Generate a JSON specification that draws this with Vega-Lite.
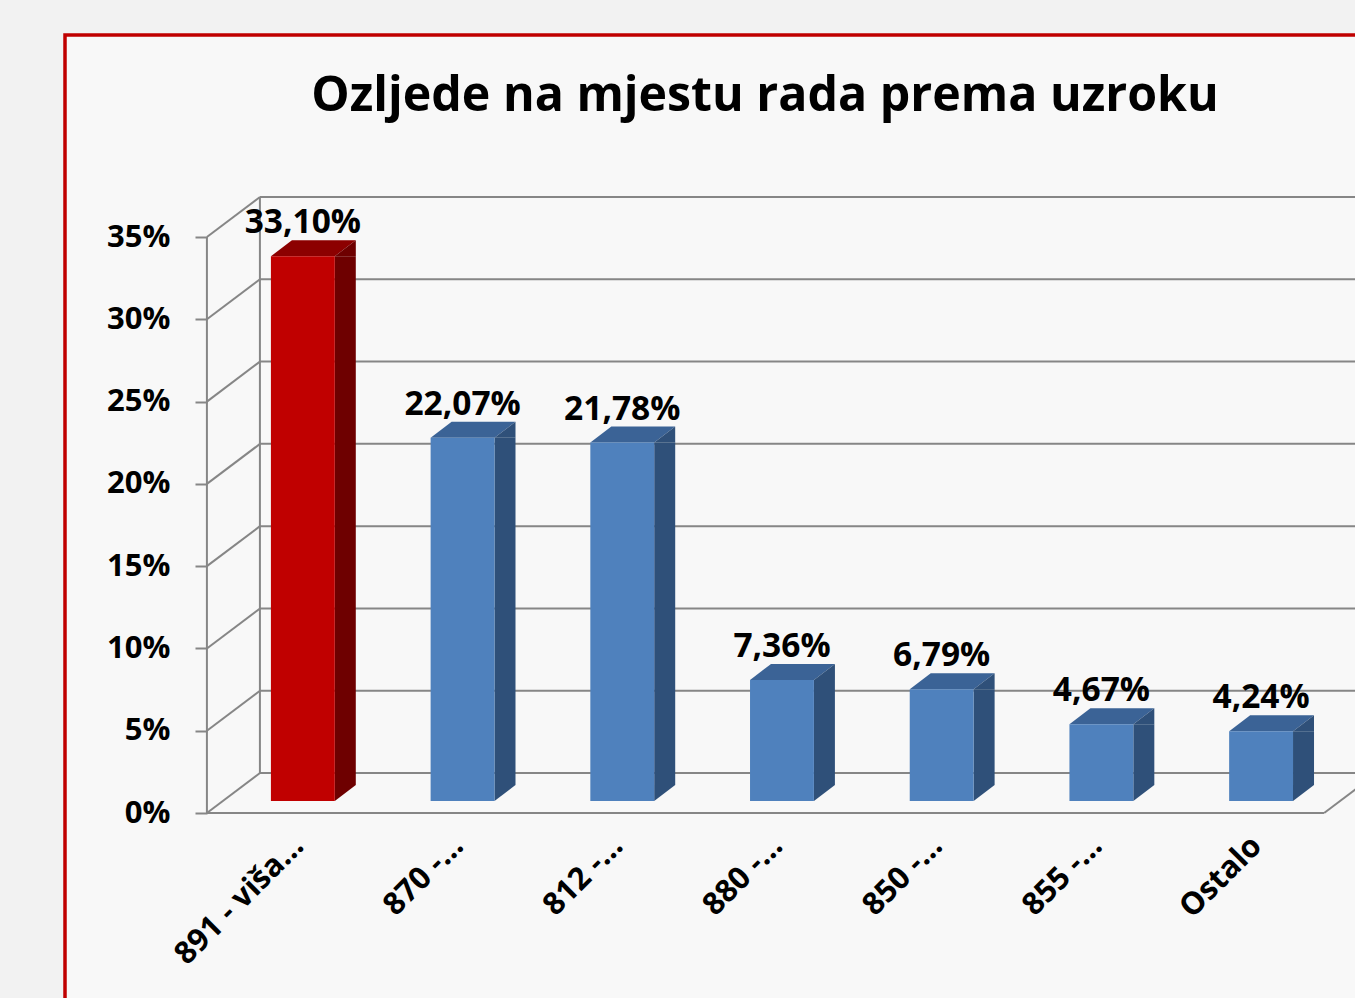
{
  "$schema": "https://vega.github.io/schema/vega-lite/v6.json",
  "width": 1300,
  "height": 973,
  "autosize": "none",
  "padding": {"left": 65, "top": 35, "right": -10, "bottom": -10},
  "background": "#f2f2f2",
  "config": {
    "view": {"fill": "#f8f8f8", "stroke": "#c00000", "strokeWidth": 3.5},
    "locale": {"number": {"decimal": ",", "thousands": ".", "grouping": [3], "currency": ["", " kn"]}},
    "font": "Open Sans"
  },
  "title": {
    "text": "Ozljede na mjestu rada prema uzroku",
    "font": "Open Sans",
    "fontWeight": "bold",
    "fontSize": 48.3,
    "color": "#000000",
    "anchor": "middle",
    "frame": "group",
    "baseline": "alphabetic",
    "offset": -124,
    "dx": 50
  },
  "resolve": {"axis": {"x": "independent", "y": "independent"}},
  "datasets": {
    "bars": [
      {"cat": "891 - viša...", "v": 0.3310},
      {"cat": "870 -...", "v": 0.2207},
      {"cat": "812 -...", "v": 0.2178},
      {"cat": "880 -...", "v": 0.0736},
      {"cat": "850 -...", "v": 0.0679},
      {"cat": "855 -...", "v": 0.0467},
      {"cat": "Ostalo", "v": 0.0424}
    ],
    "ticks": [{"t": 0}, {"t": 0.05}, {"t": 0.10}, {"t": 0.15}, {"t": 0.20}, {"t": 0.25}, {"t": 0.30}, {"t": 0.35}],
    "one": [{"k": 1}]
  },
  "layer": [
    {
      "data": {"name": "ticks"},
      "mark": {"type": "rule", "color": "#868686", "strokeWidth": 2, "xOffset": -11, "yOffset": -40},
      "encoding": {
        "x": {"datum": "891 - viša...", "type": "nominal", "bandPosition": 0, "axis": null},
        "x2": {"value": "width"},
        "y": {"field": "t", "type": "quantitative", "axis": null}
      }
    },
    {
      "data": {"name": "one"},
      "mark": {"type": "rule", "color": "#868686", "strokeWidth": 2, "xOffset": -11, "yOffset": -40, "y2Offset": -40},
      "encoding": {
        "x": {"datum": "891 - viša...", "type": "nominal", "bandPosition": 0, "axis": null},
        "y": {"datum": 0, "type": "quantitative", "axis": null},
        "y2": {"datum": 0.35}
      }
    },
    {
      "data": {"name": "ticks"},
      "mark": {"type": "rule", "color": "#868686", "strokeWidth": 2, "xOffset": -64, "x2Offset": -42.86, "y2Offset": -40},
      "encoding": {
        "x": {"datum": "891 - viša...", "type": "nominal", "bandPosition": 0, "axis": null},
        "x2": {"datum": "891 - viša..."},
        "y": {"field": "t", "type": "quantitative", "axis": null},
        "y2": {"field": "t"}
      }
    },
    {
      "data": {"name": "one"},
      "mark": {"type": "rule", "color": "#868686", "strokeWidth": 2, "xOffset": -64},
      "encoding": {
        "x": {"datum": "891 - viša...", "type": "nominal", "bandPosition": 0, "axis": null},
        "y": {"datum": 0, "type": "quantitative", "axis": null},
        "y2": {"datum": 0.35}
      }
    },
    {
      "data": {"name": "one"},
      "mark": {"type": "rule", "color": "#868686", "strokeWidth": 2, "xOffset": -64, "x2Offset": 62.9},
      "encoding": {
        "x": {"datum": "891 - viša...", "type": "nominal", "bandPosition": 0, "axis": null},
        "x2": {"datum": "Ostalo"},
        "y": {"datum": 0, "type": "quantitative", "axis": null}
      }
    },
    {
      "data": {"name": "one"},
      "mark": {"type": "rule", "color": "#868686", "strokeWidth": 2, "xOffset": 95, "x2Offset": 115.9, "y2Offset": -40},
      "encoding": {
        "x": {"datum": "Ostalo", "type": "nominal", "bandPosition": 0, "axis": null},
        "x2": {"datum": "Ostalo"},
        "y": {"datum": 0, "type": "quantitative", "axis": null},
        "y2": {"datum": 0}
      }
    },
    {
      "data": {"name": "bars"},
      "mark": {"type": "bar", "width": 21, "xOffset": 42.44, "yOffset": -12, "y2Offset": -28},
      "encoding": {
        "x": {"field": "cat", "type": "nominal", "sort": null, "axis": null},
        "y": {"field": "v", "type": "quantitative", "axis": null},
        "y2": {"datum": 0},
        "color": {"condition": {"test": "datum.cat === '891 - viša...'", "value": "#6e0000"}, "value": "#2f5079"}
      }
    },
    {
      "data": {"name": "bars"},
      "mark": {"type": "point", "shape": "M -31.94 0 L 31.94 0 L 52.94 -16 L -10.94 -16 Z", "size": 4, "filled": true, "opacity": 1, "strokeWidth": 0, "yOffset": -12},
      "encoding": {
        "x": {"field": "cat", "type": "nominal", "sort": null, "axis": null},
        "y": {"field": "v", "type": "quantitative", "axis": null},
        "color": {"condition": {"test": "datum.cat === '891 - viša...'", "value": "#8c0000"}, "value": "#3b6396"}
      }
    },
    {
      "data": {"name": "bars"},
      "mark": {"type": "point", "shape": "M 31.94 0 L 52.94 -16 L 52.94 0 Z", "size": 4, "filled": true, "opacity": 1, "strokeWidth": 0, "yOffset": -12},
      "encoding": {
        "x": {"field": "cat", "type": "nominal", "sort": null, "axis": null},
        "y": {"field": "v", "type": "quantitative", "axis": null},
        "color": {"condition": {"test": "datum.cat === '891 - viša...'", "value": "#6e0000"}, "value": "#2f5079"}
      }
    },
    {
      "data": {"name": "bars"},
      "mark": {"type": "point", "shape": "M 31.94 -16 L 52.94 -16 L 31.94 0 Z", "size": 4, "filled": true, "opacity": 1, "strokeWidth": 0, "yOffset": -12},
      "encoding": {
        "x": {"field": "cat", "type": "nominal", "sort": null, "axis": null},
        "y": {"datum": 0, "type": "quantitative", "axis": null},
        "color": {"condition": {"test": "datum.cat === '891 - viša...'", "value": "#6e0000"}, "value": "#2f5079"}
      }
    },
    {
      "data": {"name": "bars"},
      "mark": {"type": "bar", "yOffset": -12, "y2Offset": -12},
      "encoding": {
        "x": {
          "field": "cat", "type": "nominal", "sort": null,
          "scale": {"type": "band", "domain": ["891 - viša...", "870 -...", "812 -...", "880 -...", "850 -...", "855 -...", "Ostalo"], "paddingInner": 0.6, "paddingOuter": 0.87, "align": 0.741},
          "axis": {
            "orient": "bottom", "offset": -195, "title": null, "domain": false, "ticks": false, "grid": false,
            "labelAngle": -45, "labelAlign": "right", "labelBaseline": "middle", "labelPadding": 28, "labelOffset": -4,
            "labelFont": "Open Sans", "labelFontWeight": "bold", "labelFontSize": 31, "labelColor": "#000000",
            "labelOverlap": false, "labelLimit": 400
          }
        },
        "y": {
          "field": "v", "type": "quantitative",
          "scale": {"domain": [-0.11849, 0.47275], "zero": false, "nice": false},
          "axis": {
            "orient": "left", "offset": -142, "title": null, "domain": false, "grid": false,
            "values": [0, 0.05, 0.1, 0.15, 0.2, 0.25, 0.3, 0.35], "format": ".0%",
            "ticks": true, "tickSize": 12, "tickColor": "#868686", "tickWidth": 2,
            "labelPadding": 25, "labelFont": "Open Sans", "labelFontWeight": "bold", "labelFontSize": 31, "labelColor": "#000000"
          }
        },
        "y2": {"datum": 0},
        "color": {"condition": {"test": "datum.cat === '891 - viša...'", "value": "#c00000"}, "value": "#4f81bd"}
      }
    },
    {
      "data": {"name": "bars"},
      "mark": {"type": "text", "font": "Open Sans", "fontWeight": "bold", "fontSize": 33.5, "baseline": "alphabetic", "align": "center", "color": "#000000", "yOffset": -35},
      "encoding": {
        "x": {"field": "cat", "type": "nominal", "sort": null, "axis": null},
        "y": {"field": "v", "type": "quantitative", "axis": null},
        "text": {"field": "v", "type": "quantitative", "format": ".2%"}
      }
    }
  ]
}
